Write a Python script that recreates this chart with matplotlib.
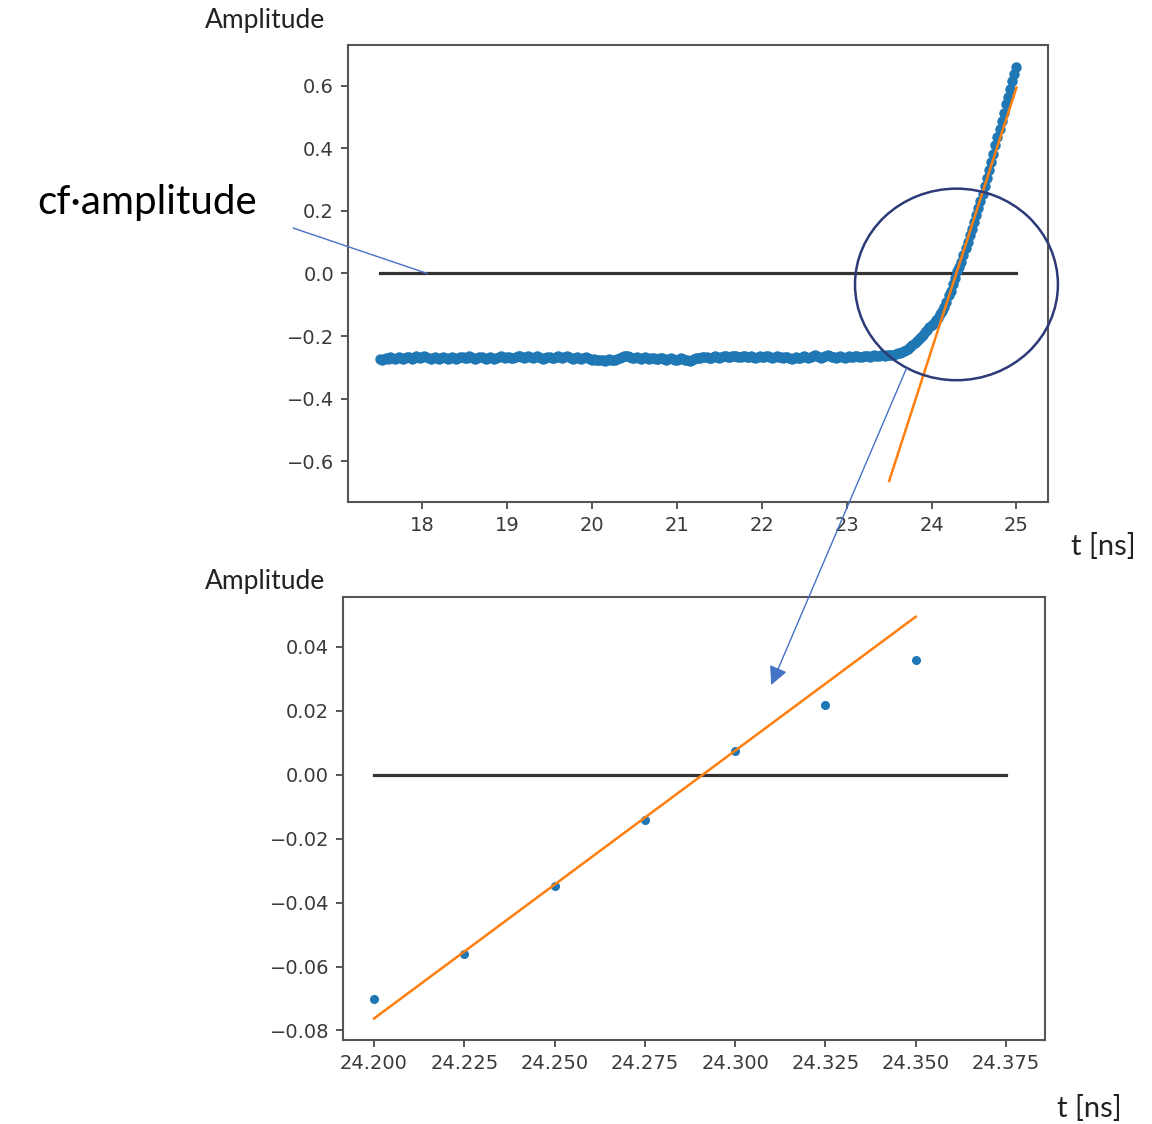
import numpy as np
import matplotlib.pyplot as plt
from matplotlib.patches import Ellipse, ConnectionPatch
from matplotlib.ticker import FuncFormatter


plt.rcParams["font.family"] = ["DejaVu Sans"]

# sampled pulse, 0.025 ns steps from 17.5 ns to 25.0 ns
t_start = 17.5
t_step = 0.025

baseline_amp = [
    -0.272, -0.276, -0.274, -0.270, -0.273, -0.268, -0.271, -0.274, -0.270, -0.266,
    -0.269, -0.273, -0.270, -0.266, -0.268, -0.272, -0.269, -0.265, -0.268, -0.271,
    -0.268, -0.264, -0.267, -0.271, -0.273, -0.270, -0.266, -0.269, -0.272, -0.270,
    -0.267, -0.270, -0.274, -0.271, -0.268, -0.271, -0.273, -0.270, -0.266, -0.268,
    -0.271, -0.269, -0.265, -0.267, -0.270, -0.272, -0.269, -0.266, -0.268, -0.271,
    -0.273, -0.270, -0.267, -0.269, -0.272, -0.270, -0.267, -0.265, -0.268, -0.270,
    -0.268, -0.266, -0.269, -0.271, -0.268, -0.265, -0.263, -0.266, -0.269, -0.267,
    -0.264, -0.267, -0.270, -0.268, -0.265, -0.267, -0.270, -0.272, -0.269, -0.266,
    -0.268, -0.271, -0.269, -0.266, -0.264, -0.267, -0.270, -0.268, -0.265, -0.267,
    -0.270, -0.272, -0.269, -0.267, -0.270, -0.273, -0.271, -0.268, -0.270, -0.273,
    -0.275, -0.273, -0.276, -0.278, -0.275, -0.277, -0.279, -0.276, -0.274, -0.276,
    -0.278, -0.276, -0.273, -0.270, -0.268, -0.265, -0.263, -0.265, -0.267, -0.269,
    -0.271, -0.268, -0.270, -0.273, -0.271, -0.268, -0.270, -0.272, -0.269, -0.271,
    -0.274, -0.272, -0.269, -0.271, -0.274, -0.276, -0.273, -0.270, -0.272, -0.275,
    -0.277, -0.274, -0.271, -0.273, -0.276, -0.278, -0.280, -0.277, -0.274, -0.271,
    -0.269, -0.271, -0.268, -0.266, -0.268, -0.271, -0.269, -0.266, -0.264, -0.267,
    -0.270, -0.268, -0.265, -0.263, -0.266, -0.268, -0.265, -0.263, -0.265, -0.268,
    -0.266, -0.263, -0.265, -0.268, -0.266, -0.264, -0.266, -0.269, -0.267, -0.264,
    -0.266, -0.268, -0.265, -0.263, -0.266, -0.269, -0.267, -0.264, -0.266, -0.268,
    -0.270, -0.268, -0.266, -0.269, -0.272, -0.270, -0.267, -0.269, -0.271, -0.268,
    -0.265, -0.268, -0.270, -0.267, -0.264, -0.261, -0.264, -0.267, -0.269, -0.266,
    -0.263, -0.260, -0.263, -0.266, -0.268, -0.270, -0.267, -0.264, -0.266, -0.269,
    -0.267, -0.264, -0.266, -0.268, -0.265, -0.263, -0.266, -0.268, -0.265, -0.263,
    -0.265, -0.267, -0.264, -0.262, -0.265, -0.263, -0.260, -0.262, -0.264, -0.261,
]

rise_amp = [
    -0.262, -0.260, -0.262, -0.258, -0.255, -0.254, -0.250, -0.248, -0.245, -0.240,
    -0.235, -0.228, -0.222, -0.216, -0.210, -0.203, -0.196, -0.188, -0.180, -0.172,
    -0.165, -0.158, -0.150, -0.141, -0.131, -0.120, -0.107, -0.090,
]

# samples around the threshold crossing (shown in the lower panel)
zoom_t = [24.200, 24.225, 24.250, 24.275, 24.300, 24.325, 24.350]
zoom_amp = [-0.0703, -0.0562, -0.0349, -0.0141, 0.0073, 0.0217, 0.0359]

upper_amp = [
    0.058, 0.080, 0.100, 0.122, 0.143, 0.165, 0.187, 0.210, 0.232, 0.255,
    0.280, 0.305, 0.330, 0.357, 0.383, 0.410, 0.436, 0.462, 0.488, 0.513,
    0.540, 0.565, 0.590, 0.615, 0.638, 0.660,
]

amp = np.array(baseline_amp + rise_amp + zoom_amp + upper_amp)
t = np.round(t_start + t_step * np.arange(len(amp)), 3)

# linear fit through the crossing
fit_slope = 0.838
fit_t0 = 24.291
fit_top_t = np.array([23.5, 25.0])
fit_zoom_t = np.array([24.2, 24.35])

cf_level = 0.0
zoom_range = [24.2, 24.375]

top_yticks = [-0.6, -0.4, -0.2, 0.0, 0.2, 0.4, 0.6]
top_xticks = [18, 19, 20, 21, 22, 23, 24, 25]
zoom_yticks = [-0.08, -0.06, -0.04, -0.02, 0.00, 0.02, 0.04]
zoom_xticks = [24.200, 24.225, 24.250, 24.275, 24.300, 24.325, 24.350, 24.375]

blue = "#1f77b4"
orange = "#ff7f0e"
line_dark = "#333333"
spine_grey = "#555555"
arrow_blue = "#4472C4"
label_font = ["Lato", "DejaVu Sans"]

fig = plt.figure(figsize=(11.52, 11.24), dpi=100)

ax_top = fig.add_axes([0.302, 0.5534, 0.608, 0.4066])
ax_zoom = fig.add_axes([0.2977, 0.0747, 0.6094, 0.3941])

for ax in (ax_top, ax_zoom):
    for spine in ax.spines.values():
        spine.set_color(spine_grey)
        spine.set_linewidth(1.5)
    ax.tick_params(
        labelsize=14,
        colors="#3a3a3a",
        length=5,
        width=1.2,
        pad=5
    )

# full pulse
ax_top.plot(
    [t[0], t[-1]],
    [cf_level, cf_level],
    color=line_dark,
    linewidth=2.3,
    zorder=1
)
ax_top.plot(
    t,
    amp,
    "o",
    color=blue,
    markersize=6.5,
    zorder=2
)
ax_top.plot(
    fit_top_t,
    fit_slope * (fit_top_t - fit_t0),
    color=orange,
    linewidth=1.8,
    zorder=3
)
ax_top.set_xlim(17.125, 25.375)
ax_top.set_ylim(-0.73, 0.73)
ax_top.set_xticks(top_xticks)
ax_top.set_yticks(top_yticks)

# zoom on the crossing
ax_zoom.plot(
    zoom_range,
    [cf_level, cf_level],
    color=line_dark,
    linewidth=2.3,
    zorder=1
)
ax_zoom.plot(
    zoom_t,
    zoom_amp,
    "o",
    color=blue,
    markersize=5.5,
    zorder=2
)
ax_zoom.plot(
    fit_zoom_t,
    fit_slope * (fit_zoom_t - fit_t0),
    color=orange,
    linewidth=1.8,
    zorder=3
)
ax_zoom.set_xlim(24.1914, 24.3858)
ax_zoom.set_ylim(-0.083, 0.0556)
ax_zoom.set_xticks(zoom_xticks)
ax_zoom.set_yticks(zoom_yticks)
ax_zoom.xaxis.set_major_formatter(FuncFormatter(lambda v, p: f"{v:.3f}"))
ax_zoom.yaxis.set_major_formatter(
    FuncFormatter(lambda v, p: f"{v:.2f}".replace("-", "\u2212"))
)

# axis captions
fig.text(0.230, 0.982, "Amplitude", fontsize=19, family=label_font,
         color="#222222", ha="center", va="center")
fig.text(0.230, 0.483, "Amplitude", fontsize=19, family=label_font,
         color="#222222", ha="center", va="center")
fig.text(0.9575, 0.514, "t [ns]", fontsize=21, family=label_font,
         color="#222222", ha="center", va="center")
fig.text(0.946, 0.0142, "t [ns]", fontsize=21, family=label_font,
         color="#222222", ha="center", va="center")

# threshold callout
fig.text(0.1276, 0.8194, "cf·amplitude", fontsize=29, family=label_font,
         color="black", ha="center", va="center")
fig.add_artist(ConnectionPatch(
    xyA=(293, 1124 - 228),
    coordsA="figure pixels",
    xyB=(18.06, cf_level),
    coordsB=ax_top.transData,
    color=arrow_blue,
    linewidth=1.0
))

# circle around the crossing region
ax_top.add_patch(Ellipse(
    (24.293, -0.035),
    2.39,
    0.612,
    fill=False,
    edgecolor="#2E3A78",
    linewidth=1.8,
    clip_on=False,
    zorder=4
))

# arrow down to the zoomed panel
fig.add_artist(ConnectionPatch(
    xyA=(23.703, -0.304),
    coordsA=ax_top.transData,
    xyB=(24.310, 0.0281),
    coordsB=ax_zoom.transData,
    arrowstyle="-|>",
    mutation_scale=28,
    color=arrow_blue,
    linewidth=1.0
))

plt.savefig("out.png", dpi=100)
plt.close()
